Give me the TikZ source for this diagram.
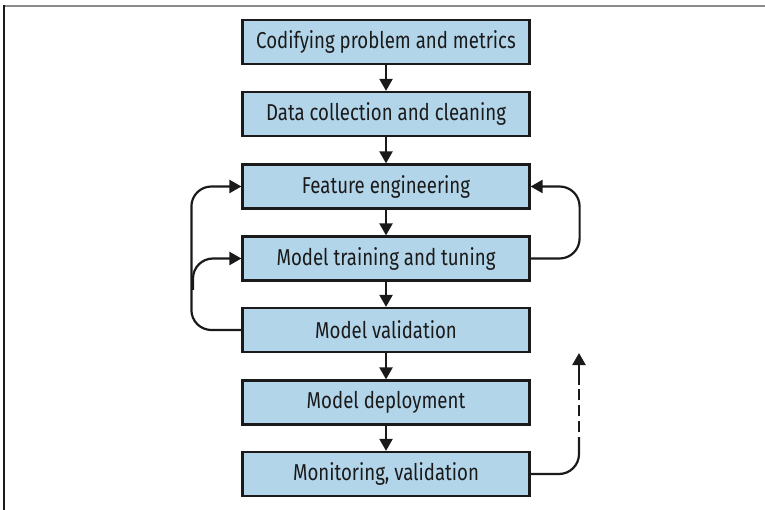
\documentclass[tikz,border=0pt]{standalone}
\usepackage{fontspec}
\setmainfont[FakeStretch=0.81]{Fira Sans}
\usetikzlibrary{arrows.meta}
\definecolor{boxfill}{HTML}{B3D5EA}
\definecolor{ink}{HTML}{1A1A1A}
\begin{document}
\begin{tikzpicture}[x=1pt,y=-1pt,
  stepbox/.style={draw=ink, line width=2.2pt, fill=boxfill, minimum width=287pt, minimum height=44pt, inner sep=0pt, font=\fontsize{23}{26}\selectfont, text=ink},
  flow/.style={draw=ink, line width=2.2pt, -{Triangle[width=13pt,length=12pt]}},
  loopline/.style={draw=ink, line width=2.2pt, rounded corners=20pt}
]
\useasboundingbox (0,0) rectangle (765,510);
\draw[line width=2pt, draw=gray!90] (3,6) -- (765,6);
\draw[line width=2pt, draw=ink] (4,5) -- (4,510);

\node[stepbox] (cp) at (386,42) {Codifying problem and metrics};
\node[stepbox] (dc) at (386,114) {Data collection and cleaning};
\node[stepbox] (fe) at (386,186.5) {Feature engineering};
\node[stepbox] (mt) at (386,258.5) {Model training and tuning};
\node[stepbox] (mv) at (386,330) {Model validation};
\node[stepbox] (md) at (386,402.5) {Model deployment};
\node[stepbox] (mo) at (386,474) {Monitoring, validation};

\draw[flow] (cp) -- (dc);
\draw[flow] (dc) -- (fe);
\draw[flow] (fe) -- (mt);
\draw[flow] (mt) -- (mv);
\draw[flow] (mv) -- (md);
\draw[flow] (md) -- (mo);

% left loop
\draw[loopline, -{Triangle[width=13pt,length=12pt]}] (mv.west) -- ++(-50,0) |- (fe.west);
\coordinate (br) at (193,290);
\draw[loopline, -{Triangle[width=13pt,length=12pt]}] (br) |- (mt.west);

% right loop
\draw[loopline, -{Triangle[width=13pt,length=12pt]}] (mt.east) -- ++(49,0) |- (fe.east);

% dashed return
\coordinate (d1) at (579,437);
\coordinate (d2) at (579,385);
\coordinate (tip) at (579,353);
\draw[loopline] (mo.east) -| (d1);
\draw[draw=ink, line width=2.2pt, dash pattern=on 11pt off 5pt, dash phase=-5pt] (d1) -- (d2);
\draw[flow] (d2) -- (tip);
\end{tikzpicture}
\end{document}
